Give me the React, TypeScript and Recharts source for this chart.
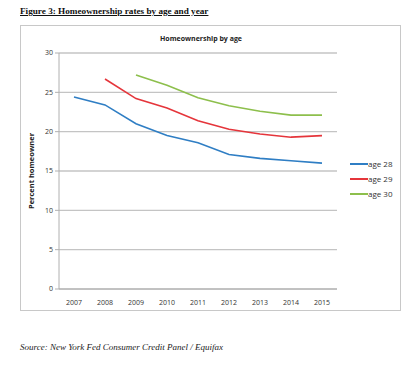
import React from 'react';
import { LineChart, Line, XAxis, YAxis, CartesianGrid } from 'recharts';

const years = ['2007', '2008', '2009', '2010', '2011', '2012', '2013', '2014', '2015'];
const age28 = [24.4, 23.4, 21.0, 19.5, 18.6, 17.1, 16.6, 16.3, 16.0];
const age29 = [null, 26.7, 24.2, 23.0, 21.4, 20.3, 19.7, 19.3, 19.5];
const age30 = [null, null, 27.2, 25.9, 24.3, 23.3, 22.6, 22.1, 22.1];
const yTicks = [0, 5, 10, 15, 20, 25, 30];

const series = [
  { key: 'age28', name: 'age 28', color: '#2f7ec4' },
  { key: 'age29', name: 'age 29', color: '#e5353b' },
  { key: 'age30', name: 'age 30', color: '#8dbf4c' }
];

const data = years.map((year, i) => ({
  year,
  age28: age28[i],
  age29: age29[i],
  age30: age30[i]
}));

const font = '"Open Sans", "Liberation Sans", sans-serif';

const App: React.FC = () => {
  return (
    <div style={{ position: 'absolute', left: 0, top: 0, width: 415, height: 367, background: '#fff' }}>
      <div
        style={{
          position: 'absolute',
          left: 20,
          top: 6,
          fontFamily: '"Liberation Serif", serif',
          fontWeight: 'bold',
          fontSize: 9.2,
          textDecoration: 'underline',
          color: '#111'
        }}
      >
        Figure 3: Homeownership rates by age and year
      </div>

      <div
        style={{
          position: 'absolute',
          left: 20,
          top: 25,
          width: 379,
          height: 284,
          border: '1px solid #c8c8c8'
        }}
      >
        <div
          style={{
            position: 'absolute',
            left: 0,
            top: 8,
            width: 360,
            textAlign: 'center',
            fontFamily: font,
            fontWeight: 'bold',
            fontSize: 7,
            color: '#222'
          }}
        >
          Homeownership by age
        </div>
        <LineChart width={379} height={284} data={data} margin={{ top: 27, right: 63, bottom: 0, left: 0 }}>
          <CartesianGrid vertical={false} stroke="#c4c4c4" strokeWidth={1.3} />
          <XAxis
            dataKey="year"
            height={21}
            padding={{ left: 15, right: 15 }}
            axisLine={{ stroke: '#b0b0b0' }}
            tickLine={false}
            tick={{ fontFamily: font, fontSize: 7, fill: '#333' }}
            tickMargin={5}
          />
          <YAxis
            domain={[0, 30]}
            ticks={yTicks}
            width={38}
            axisLine={{ stroke: '#b0b0b0' }}
            tickLine={{ stroke: '#b0b0b0' }}
            tickSize={4}
            tick={{ fontFamily: font, fontSize: 7, fill: '#333' }}
            label={{
              value: 'Percent homeowner',
              angle: -90,
              position: 'insideLeft',
              offset: 10,
              style: { fontFamily: font, fontSize: 7.5, fontWeight: 'bold', fill: '#222', textAnchor: 'middle' }
            }}
          />
          {series.map((s) => (
            <Line
              key={s.key}
              type="linear"
              dataKey={s.key}
              name={s.name}
              stroke={s.color}
              strokeWidth={1.6}
              dot={false}
              isAnimationActive={false}
            />
          ))}
        </LineChart>
        <div
          style={{
            position: 'absolute',
            left: 329,
            top: 130,
            fontFamily: font,
            fontSize: 8,
            color: '#333'
          }}
        >
          {series.map((s) => (
            <div key={s.key} style={{ display: 'flex', alignItems: 'center', height: 15 }}>
              <div style={{ width: 18, height: 2, background: s.color }} />
              <span>{s.name}</span>
            </div>
          ))}
        </div>
      </div>

      <div
        style={{
          position: 'absolute',
          left: 20,
          top: 342,
          fontFamily: '"Liberation Serif", serif',
          fontStyle: 'italic',
          fontSize: 9,
          color: '#222'
        }}
      >
        Source: New York Fed Consumer Credit Panel / Equifax
      </div>
    </div>
  );
};

export default App;
